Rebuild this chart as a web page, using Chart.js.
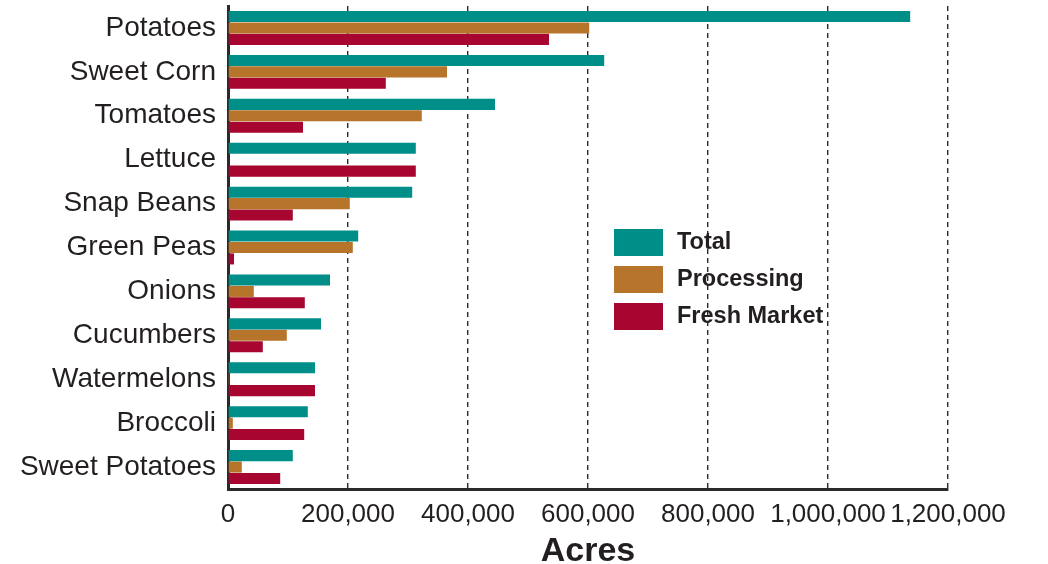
<!DOCTYPE html>
<html>
<head>
<meta charset="utf-8">
<script src="https://cdn.jsdelivr.net/npm/chart.js@4/dist/chart.umd.min.js"></script>
<style>
    body { margin: 0; background: #ffffff; }
    #wrap { width: 1048px; height: 564px; position: relative; }
</style>
</head>
<body>
<div id="wrap"><canvas id="cropChart"></canvas></div>
<script>
const crops = ["Potatoes", "Sweet Corn", "Tomatoes", "Lettuce", "Snap Beans", "Green Peas",
    "Onions", "Cucumbers", "Watermelons", "Broccoli", "Sweet Potatoes"];
const totalAcres = [1137000, 627000, 445000, 313000, 307000, 217000, 170000, 155000, 145000, 133000, 108000];
const processingAcres = [602000, 365000, 323000, 0, 203000, 208000, 43000, 98000, 2000, 8000, 23000];
const freshAcres = [535000, 263000, 125000, 313000, 108000, 10000, 128000, 58000, 145000, 127000, 87000];
const xTicks = [0, 200000, 400000, 600000, 800000, 1000000, 1200000];

const TEXT = "#231f20";
const FONT = "'Liberation Sans', Arial, Helvetica, sans-serif";

// legend sits inside the plot, so draw it by hand
const boxLegend = {
    id: "boxLegend",
    afterDraw(chart) {
        const ctx = chart.ctx;
        ctx.save();
        ctx.font = `bold 23.5px ${FONT}`;
        ctx.textBaseline = "middle";
        chart.data.datasets.forEach((ds, i) => {
            const y = 229 + i * 37;
            ctx.fillStyle = ds.backgroundColor;
            ctx.fillRect(614, y, 49, 27);
            ctx.fillStyle = TEXT;
            ctx.fillText(ds.label, 677, y + 14);
        });
        ctx.restore();
    },
};

new Chart(document.getElementById("cropChart"), {
    type: "bar",
    data: {
        labels: crops,
        datasets: [
            { label: "Total", data: totalAcres, backgroundColor: "#008e89" },
            { label: "Processing", data: processingAcres, backgroundColor: "#b7752b" },
            { label: "Fresh Market", data: freshAcres, backgroundColor: "#a6062f" },
        ],
    },
    options: {
        indexAxis: "y",
        responsive: true,
        maintainAspectRatio: false,
        animation: false,
        categoryPercentage: 0.78,
        barPercentage: 0.97,
        layout: { padding: { top: 6, right: 100, left: 0, bottom: 0 } },
        plugins: {
            legend: { display: false },
            tooltip: { enabled: false },
        },
        scales: {
            x: {
                min: 0,
                max: 1200000,
                afterBuildTicks: (scale) => {
                    scale.ticks = xTicks.map((v) => ({ value: v }));
                },
                afterFit: (scale) => {
                    scale.height = 75;
                    scale.paddingLeft = 0;
                    scale.paddingRight = 0;
                },
                ticks: {
                    autoSkip: false,
                    maxRotation: 0,
                    padding: 10,
                    color: TEXT,
                    font: { family: FONT, size: 26 },
                    callback: (v) => Number(v).toLocaleString("en-US"),
                },
                grid: {
                    color: "#2a2a2a",
                    lineWidth: 1.4,
                    drawTicks: false,
                },
                border: { display: true, color: "#2a2a2a", width: 3, dash: [5, 4] },
                title: {
                    display: true,
                    text: "Acres",
                    color: TEXT,
                    padding: { top: 0, bottom: 0 },
                    font: { family: FONT, size: 34, weight: "bold", lineHeight: 0.7 },
                },
            },
            y: {
                afterFit: (scale) => {
                    scale.width = 228;
                    scale.paddingTop = 0;
                    scale.paddingBottom = 0;
                },
                ticks: {
                    padding: 12,
                    color: TEXT,
                    font: { family: FONT, size: 28 },
                },
                grid: { display: false, drawTicks: false },
                border: { display: true, color: "#2a2a2a", width: 3 },
            },
        },
    },
    plugins: [boxLegend],
});
</script>
</body>
</html>
